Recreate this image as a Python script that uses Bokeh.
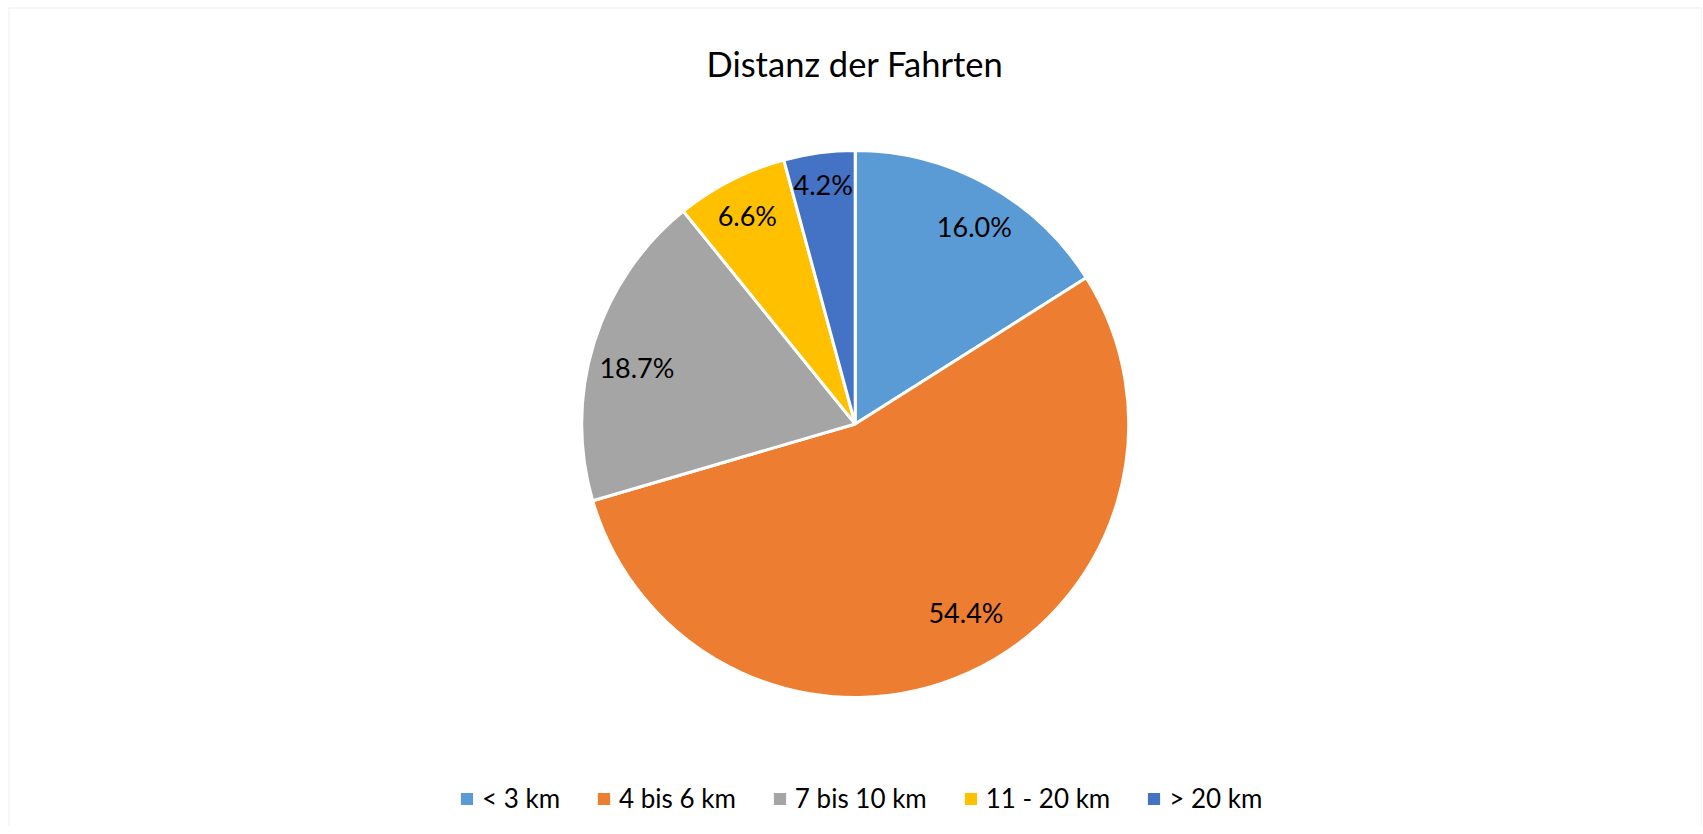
import math
from bokeh.plotting import figure
from bokeh.models import ColumnDataSource, Range1d, Legend, LegendItem, BoxAnnotation
from bokeh.core.properties import value
from bokeh.embed import file_html
from bokeh.resources import INLINE

# ---- data ----
categories = ["< 3 km", "4 bis 6 km", "7 bis 10 km", "11 - 20 km", "> 20 km"]
shares = [16.0, 54.4, 18.7, 6.6, 4.2]
labels = ["16.0%", "54.4%", "18.7%", "6.6%", "4.2%"]
colors = ["#5B9BD5", "#ED7D31", "#A5A5A5", "#FFC000", "#4472C4"]
title_text = "Distanz der Fahrten"

# ---- layout (page pixel coordinates, y up) ----
W, H = 1702, 826
CX, CY = 854.7, H - 423.5
R = 273.5
# label placement: angle clockwise from top (deg), distance from centre (px)
label_angle = [31.1, 149.5, 284.5, 332.6, 352.4]
label_dist = [230.7, 218.2, 225.5, 234.4, 241.6]
FONT = "Lato"

total = sum(shares)
starts, ends = [], []
cum = 0.0
for s in shares:
    starts.append(math.pi / 2 - 2 * math.pi * cum / total)
    cum += s
    ends.append(math.pi / 2 - 2 * math.pi * cum / total)

lx = [CX + d * math.sin(math.radians(a)) for a, d in zip(label_angle, label_dist)]
ly = [CY + d * math.cos(math.radians(a)) for a, d in zip(label_angle, label_dist)]

src = ColumnDataSource(dict(
    start=starts, end=ends, color=colors, cat=categories,
    x=[CX] * len(shares), y=[CY] * len(shares),
))
lsrc = ColumnDataSource(dict(x=lx, y=ly, text=labels))

p = figure(width=W, height=H, x_range=Range1d(0, W), y_range=Range1d(0, H),
           output_backend="svg", toolbar_location=None, tools="",
           x_axis_type=None, y_axis_type=None, min_border=0,
           outline_line_color=None, background_fill_color="white",
           border_fill_color="white")
p.grid.visible = False

wr = p.wedge(x="x", y="y", radius=R, start_angle="start", end_angle="end",
             direction="clock", fill_color="color", line_color="white",
             line_width=3, source=src)

p.text(x="x", y="y", text="text", source=lsrc, text_align="center",
       text_baseline="middle", text_font=value(FONT), text_font_size="27px",
       text_color="black")

# title
p.text(x=[854.5], y=[H - 63], text=[title_text], text_align="center",
       text_baseline="alphabetic", text_font=value(FONT),
       text_font_size="34.5px", text_color="black")

# chart border
p.add_layout(BoxAnnotation(left=8.5, right=1701, top=H - 7.5, bottom=-30,
                           fill_color=None, line_color="#D9D9D9", line_width=1.5))

items = [LegendItem(label=c, renderers=[wr], index=i) for i, c in enumerate(categories)]
legend = Legend(items=items, orientation="horizontal", location=(457, 12),
                glyph_width=19, glyph_height=19, label_standoff=6, spacing=34,
                label_text_font=FONT, label_text_font_size="26px",
                label_text_color="black", border_line_color=None,
                background_fill_alpha=0, padding=0, margin=0)
p.add_layout(legend)

open("out.html", "w").write(file_html(p, INLINE))
